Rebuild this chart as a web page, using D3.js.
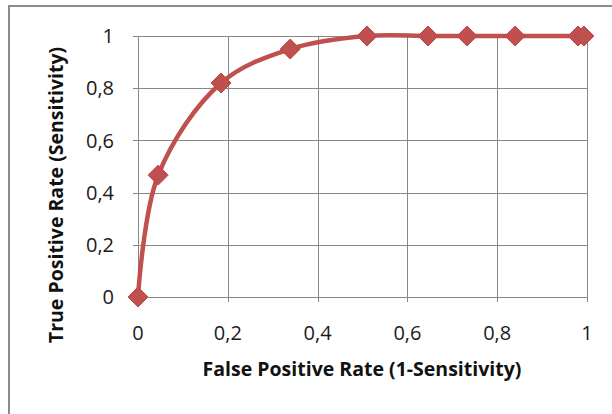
<!DOCTYPE html>
<html>
<head>
<meta charset="utf-8">
<script src="https://cdn.jsdelivr.net/npm/d3@7"></script>
<style>
  html, body { margin: 0; padding: 0; background: #fff; }
  svg { display: block; }
</style>
</head>
<body>
<svg id="chart" width="612" height="414"></svg>
<script>
// ROC points
const fpr = [0, 0.045, 0.185, 0.339, 0.51, 0.646, 0.733, 0.84, 0.98, 0.993]
const tpr = [0, 0.467, 0.82, 0.95, 1, 1, 1, 1, 1, 1]
const xTicks = [0, 0.2, 0.4, 0.6, 0.8, 1]
const yTicks = [0, 0.2, 0.4, 0.6, 0.8, 1]

const red = '#C0504D'
const grid = '#878787'
const fmt = d => String(d).replace('.', ',')

const svg = d3.select('#chart')

// outer chart border (only top/left are inside the picture)
svg.append('rect')
	.attr('x', 9).attr('y', 6)
	.attr('width', 640).attr('height', 440)
	.attr('fill', 'none')
	.attr('stroke', '#8c8c8c')
	.attr('stroke-width', 2)

const x = d3.scaleLinear().domain([0, 1]).range([138, 587])
const y = d3.scaleLinear().domain([0, 1]).range([297, 36])

// gridlines
svg.append('g')
	.selectAll('line')
	.data(xTicks)
	.join('line')
	.attr('x1', d => Math.round(x(d)) + 0.5)
	.attr('x2', d => Math.round(x(d)) + 0.5)
	.attr('y1', y(1))
	.attr('y2', y(0) + 5)
	.attr('stroke', grid)
	.attr('stroke-width', 1)

svg.append('g')
	.selectAll('line')
	.data(yTicks)
	.join('line')
	.attr('x1', x(0) - 5)
	.attr('x2', x(1))
	.attr('y1', d => Math.round(y(d)) + 0.5)
	.attr('y2', d => Math.round(y(d)) + 0.5)
	.attr('stroke', grid)
	.attr('stroke-width', 1)

// tick labels
const tickFont = '"Open Sans", sans-serif'
svg.append('g')
	.selectAll('text')
	.data(xTicks)
	.join('text')
	.attr('x', d => x(d))
	.attr('y', 340)
	.attr('text-anchor', 'middle')
	.attr('font-family', tickFont)
	.attr('font-size', 20)
	.attr('fill', '#1a1a1a')
	.text(fmt)

svg.append('g')
	.selectAll('text')
	.data(yTicks)
	.join('text')
	.attr('x', 114)
	.attr('y', d => y(d))
	.attr('dy', '0.36em')
	.attr('text-anchor', 'end')
	.attr('font-family', tickFont)
	.attr('font-size', 20)
	.attr('fill', '#1a1a1a')
	.text(fmt)

// axis titles
svg.append('text')
	.attr('x', 362)
	.attr('y', 376)
	.attr('text-anchor', 'middle')
	.attr('font-family', tickFont)
	.attr('font-weight', 'bold')
	.attr('font-size', 19.5)
	.attr('fill', '#111')
	.text('False Positive Rate (1-Sensitivity)')

svg.append('text')
	.attr('transform', 'translate(63,195) rotate(-90)')
	.attr('text-anchor', 'middle')
	.attr('font-family', tickFont)
	.attr('font-weight', 'bold')
	.attr('font-size', 19.5)
	.attr('fill', '#111')
	.text('True Positive Rate (Sensitivity)')

// smoothed line
const pts = fpr.map((d, i) => [d, tpr[i]])
const line = d3.line()
	.x(d => x(d[0]))
	.y(d => y(d[1]))
	.curve(d3.curveCatmullRom.alpha(0.5))

svg.append('path')
	.datum(pts)
	.attr('d', line)
	.attr('fill', 'none')
	.attr('stroke', red)
	.attr('stroke-width', 4.5)
	.attr('stroke-linejoin', 'round')

// diamond markers
const r = 10
svg.append('g')
	.selectAll('path')
	.data(pts)
	.join('path')
	.attr('transform', d => `translate(${x(d[0])},${y(d[1])})`)
	.attr('d', `M0,${-r} L${r},0 L0,${r} L${-r},0 Z`)
	.attr('fill', red)
	.attr('stroke', '#b8474a')
	.attr('stroke-width', 1)
</script>
</body>
</html>
